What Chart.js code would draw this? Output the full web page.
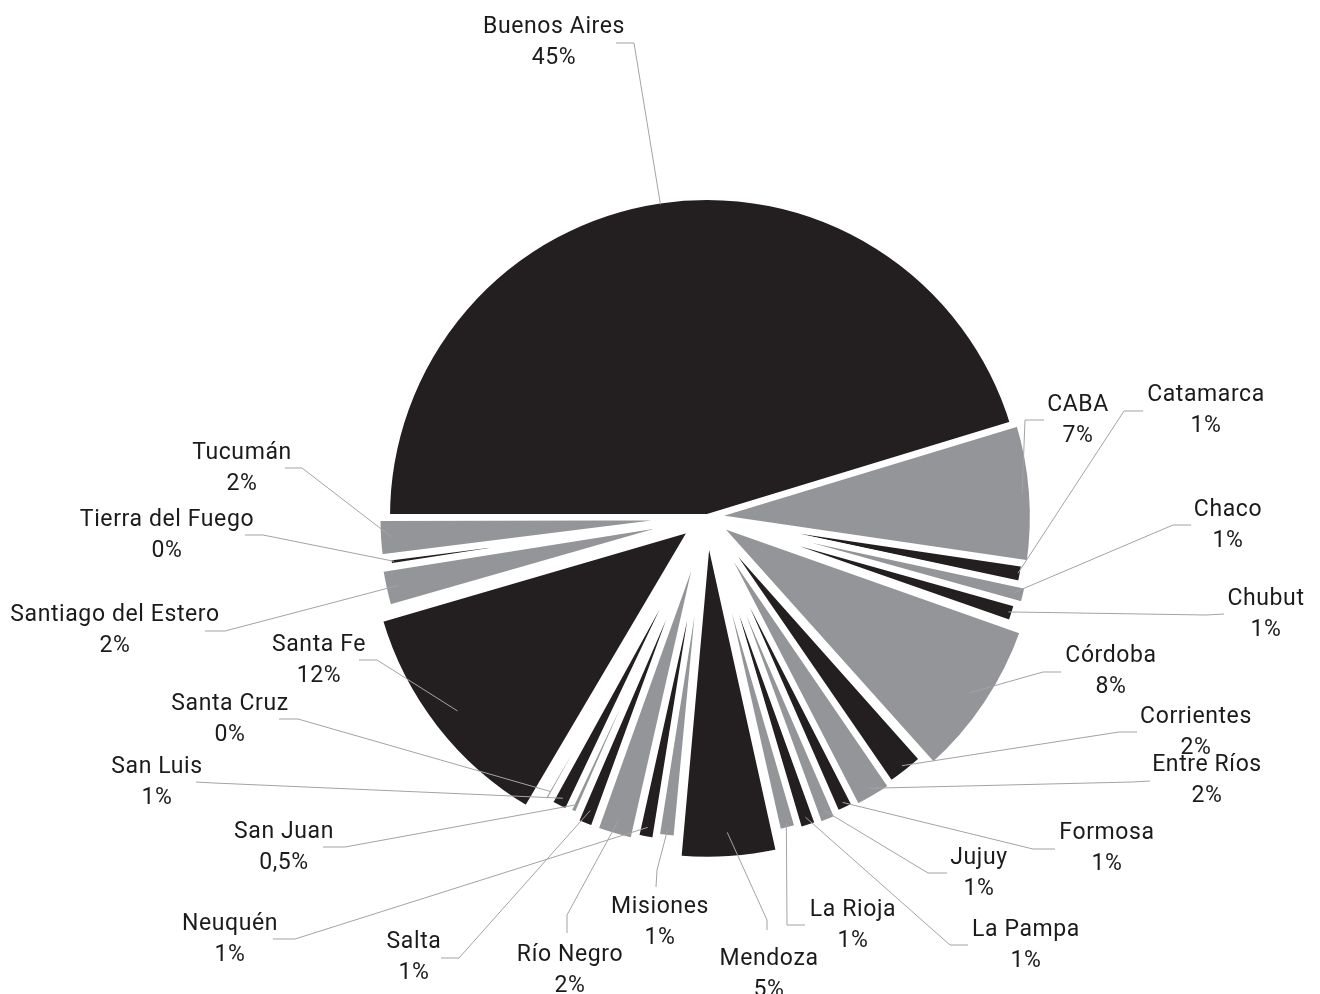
<!DOCTYPE html>
<html lang="es">
<head>
<meta charset="utf-8">
<title>Distribución por provincia</title>
<script src="https://cdn.jsdelivr.net/npm/chart.js@4.4.1/dist/chart.umd.min.js"></script>
<style>
    html, body { margin: 0; padding: 0; background: #ffffff; }
    #contenedor { position: relative; width: 1320px; height: 994px; }
</style>
</head>
<body>
<div id="contenedor"><canvas id="provinciasPie"></canvas></div>
<script>
// --- 1. Datos ---
const provincias = [
    'Buenos Aires', 'CABA', 'Catamarca', 'Chaco', 'Chubut', 'Córdoba', 'Corrientes', 'Entre Ríos',
    'Formosa', 'Jujuy', 'La Pampa', 'La Rioja', 'Mendoza', 'Misiones', 'Neuquén', 'Río Negro',
    'Salta', 'San Juan', 'San Luis', 'Santa Cruz', 'Santa Fe', 'Santiago del Estero', 'Tierra del Fuego', 'Tucumán'
];
// los "0%" son porciones muy chicas que se redondean a cero
const porcentajes = [45, 7, 1, 1, 1, 8, 2, 2, 1, 1, 1, 1, 5, 1, 1, 2, 1, 0.5, 1, 0.4, 12, 2, 0.45, 2];
const textoPorcentaje = [
    '45%', '7%', '1%', '1%', '1%', '8%', '2%', '2%', '1%', '1%', '1%', '1%', '5%', '1%', '1%', '2%',
    '1%', '0,5%', '1%', '0%', '12%', '2%', '0%', '2%'
];

// --- 2. Estilo y ubicación de etiquetas ---
const NEGRO = '#231f20';
const GRIS = '#939598';
const colores = provincias.map((_, i) => (i % 2 === 0 ? NEGRO : GRIS));

// cuánto sobresale cada porción del borde (px)
const separacion = [0, 8, 1, 12, 3, 22, 6, 10, 6, 12, 10, 5, 32, 5, 12, 18, 18, 8, 10, 10, 30, 16, 2, 14];

// centro de la primera línea de cada etiqueta
const posEtiqueta = [
    [554, 24], [1078, 402], [1206, 392], [1228, 507], [1266, 596], [1111, 653], [1196, 714], [1207, 762],
    [1107, 830], [979, 855], [1026, 927], [853, 907], [769, 956], [660, 904], [230, 921], [570, 952],
    [414, 939], [284, 829], [157, 764], [230, 701], [319, 642], [115, 612], [167, 517], [242, 450]
];
// inicio y quiebre de cada línea guía; el final sale del centro angular de la porción
const guias = [
    [[616, 43], [634, 43]], [[1044, 420], [1025, 420]], [[1143, 411], [1124, 411]], [[1191, 525], [1173, 525]],
    [[1224, 614], [1206, 615]], [[1061, 672], [1043, 672]], [[1137, 732], [1119, 732]], [[1150, 781], [1132, 782]],
    [[1055, 849], [1033, 849]], [[947, 873], [928, 873]], [[968, 945], [950, 945]], [[805, 925], [787, 925]],
    [[767, 930], [767, 920]], [[656, 887], [657, 870]], [[273, 939], [295, 939]], [[567, 933], [567, 915]],
    [[441, 958], [459, 958]], [[323, 847], [345, 847]], [[196, 782], [214, 783]], [[279, 719], [298, 719]],
    [[359, 660], [377, 660]], [[205, 631], [225, 631]], [[245, 535], [263, 535]], [[285, 468], [302, 468]]
];

const RADIO = 320;
const total = porcentajes.reduce((a, b) => a + b, 0);

// Chart.js desplaza el arco offset/4 y agranda el radio según el ancho angular:
// convierto los px de separación al valor de offset que corresponde
function offsetPorcion(i) {
    const ang = porcentajes[i] / total * Math.PI * 2;
    const fix = 1 - Math.sin(Math.min(Math.PI, ang));
    return 4 * separacion[i] / (1 + 2 * fix);
}

const etiquetasPlugin = {
    id: 'etiquetasProvincias',
    afterDatasetsDraw(chart) {
        const ctx = chart.ctx;
        const arcos = chart.getDatasetMeta(0).data;
        ctx.save();
        ctx.strokeStyle = '#a3a3a3';
        ctx.lineWidth = 1;
        arcos.forEach((arc, i) => {
            const medio = (arc.startAngle + arc.endAngle) / 2;
            const r = arc.outerRadius - 4;
            const ax = arc.x + Math.cos(medio) * r;
            const ay = arc.y + Math.sin(medio) * r;
            const [ini, quiebre] = guias[i];
            ctx.beginPath();
            ctx.moveTo(ini[0], ini[1]);
            ctx.lineTo(quiebre[0], quiebre[1]);
            ctx.lineTo(ax, ay);
            ctx.stroke();
        });
        ctx.fillStyle = '#1c1a1b';
        ctx.font = '23px Roboto';
        if ('letterSpacing' in ctx) ctx.letterSpacing = '0.6px';
        ctx.textAlign = 'center';
        ctx.textBaseline = 'middle';
        provincias.forEach((nombre, i) => {
            const [x, y] = posEtiqueta[i];
            // 'middle' deja el texto un poco alto, bajo 3px
            ctx.fillText(nombre, x, y + 3);
            ctx.fillText(textoPorcentaje[i], x, y + 34);
        });
        ctx.restore();
    }
};

document.addEventListener('DOMContentLoaded', function () {
    const ctx = document.getElementById('provinciasPie').getContext('2d');
    new Chart(ctx, {
        type: 'pie',
        data: {
            labels: provincias,
            datasets: [{
                data: porcentajes,
                backgroundColor: colores,
                borderColor: '#ffffff',
                borderWidth: 6,
                offset: (c) => offsetPorcion(c.dataIndex),
                hoverOffset: 0
            }]
        },
        options: {
            responsive: true,
            maintainAspectRatio: false,
            animation: false,
            rotation: -90,
            radius: RADIO,
            layout: { padding: { left: 94, right: 0, top: 40, bottom: 0 } },
            plugins: {
                legend: { display: false },
                tooltip: { enabled: false }
            }
        },
        plugins: [etiquetasPlugin]
    });
});
</script>
</body>
</html>
